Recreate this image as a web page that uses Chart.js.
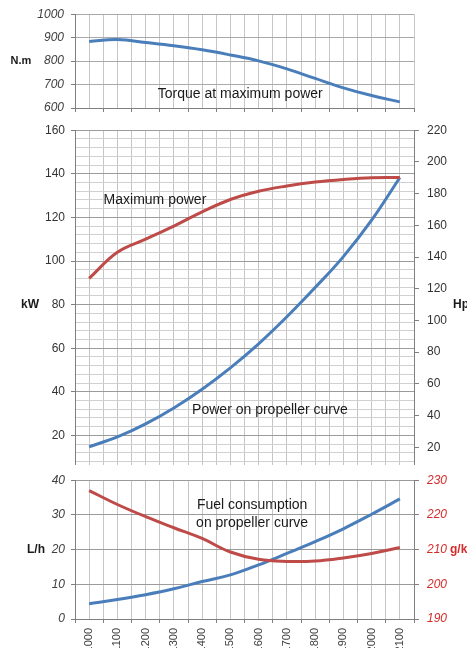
<!DOCTYPE html>
<html>
<head>
<meta charset="utf-8">
<script src="https://cdn.jsdelivr.net/npm/chart.js@4"></script>
<style>
  html, body { margin: 0; padding: 0; background: #fff; overflow: hidden; }
  #wrap { position: relative; width: 467px; height: 648px; overflow: hidden; }
  .panel { position: absolute; left: 0; width: 467px; overflow: hidden; }
  canvas { display: block; }
</style>
</head>
<body>
<div id="wrap">
  <div class="panel" style="top:0;height:125px"><canvas id="torque" width="467" height="125"></canvas></div>
  <div class="panel" style="top:115px;height:350px"><canvas id="power" width="467" height="380"></canvas></div>
  <div class="panel" style="top:465px;height:183px"><canvas id="fuel" width="467" height="195"></canvas></div>
</div>
<script>
// engine speed, rpm
const rpm = [1000, 1100, 1200, 1300, 1400, 1500, 1600, 1700, 1800, 1900, 2000, 2100];

// torque at maximum power, N.m
const torqueNm = [884, 892, 879, 865, 848, 826, 801, 767, 726, 686, 653, 626];

// power, kW
const maxPowerKw = [92, 104, 110, 116, 122.5, 128.2, 132, 134.4, 136.2, 137.4, 138.2, 138.3];
const propPowerKw = [14.8, 19.3, 25.3, 32.6, 41.2, 51, 62, 74.4, 87.8, 102, 118.7, 138.3];

// fuel consumption on propeller curve
const fuelLh = [4.4, 5.6, 7, 8.7, 10.8, 12.7, 15.6, 18.9, 22.3, 26, 30.2, 34.6];
const fuelGkwh = [227, 223, 219.5, 216.3, 213.2, 209.3, 207.2, 206.6, 206.7, 207.6, 208.9, 210.6];

// axis ranges [min, max, step]
const torqueAxis = [600, 1000, 100];
const kwAxis = [0, 160, 20];
const hpAxis = [0, 220, 20];
const lhAxis = [0, 40, 10];
const gkwhAxis = [190, 230, 10];

const BLUE = "#4a7ebb";
const RED = "#be4b48";
const FONT = "'Liberation Sans', Arial, sans-serif";

const pts = (ys) => rpm.map((x, i) => ({ x: x, y: ys[i] }));

const line = (label, ys, color, axis) => ({
  label: label,
  data: pts(ys),
  borderColor: color,
  borderWidth: 3,
  pointRadius: 0,
  fill: false,
  tension: 0.4,
  yAxisID: axis,
});

// captions and axis names
const notesPlugin = {
  id: "notes",
  afterDatasetsDraw(chart, args, opts) {
    const ctx = chart.ctx;
    const area = chart.chartArea;
    ctx.save();
    ctx.textBaseline = "middle";
    (opts.items || []).forEach((it) => {
      ctx.font = it.font;
      ctx.fillStyle = it.color || "#1a1a1a";
      ctx.textAlign = it.align || "center";
      let x, y;
      if (it.axis) {
        x = chart.scales.x.getPixelForValue(it.x);
        y = chart.scales[it.axis].getPixelForValue(it.y);
      } else {
        x = it.px;
        y = (area.top + area.bottom) / 2;
      }
      ctx.fillText(it.text, x, y);
    });
    ctx.restore();
  },
};

function rpmAxis(showLabels, height) {
  return {
    type: "linear",
    min: rpm[0] - 50,
    max: rpm[rpm.length - 1] + 50,
    grid: {
      color: "#c6c6c6",
      tickLength: 4,
      tickColor: (c) => (c.tick && Math.round(c.tick.value) % 100 === 50 ? "#7f7f7f" : "rgba(0,0,0,0)"),
    },
    border: { color: "#7f7f7f" },
    ticks: {
      display: showLabels,
      stepSize: 50,
      autoSkip: false,
      maxRotation: 90,
      minRotation: 90,
      padding: 5,
      color: "#404040",
      font: { family: FONT, size: 11 },
      callback: (v) => (v % 100 === 0 ? String(v) : ""),
    },
    afterFit: (s) => { s.height = height; },
  };
}

function valueAxis(range, pos, opts) {
  return Object.assign({
    type: "linear",
    position: pos,
    min: range[0],
    max: range[1],
    border: { color: "#7f7f7f" },
    afterFit: (s) => { s.width = pos === "left" ? 75 : 53; },
  }, opts);
}

const baseOptions = (padTop, padRight, scales, notes) => ({
  responsive: false,
  animation: false,
  layout: { padding: { top: padTop, left: 0, right: padRight, bottom: 0 } },
  plugins: { legend: { display: false }, tooltip: { enabled: false }, notes: { items: notes } },
  scales: scales,
});

// torque panel
new Chart("torque", {
  type: "line",
  data: { datasets: [line("Torque at maximum power", torqueNm, BLUE, "y")] },
  options: baseOptions(14, 53, {
    x: rpmAxis(false, 17),
    y: valueAxis(torqueAxis, "left", {
      grid: { color: "#a9a9a9", tickLength: 4, tickColor: "#7f7f7f" },
      ticks: {
        stepSize: torqueAxis[2],
        padding: 7,
        color: "#404040",
        font: { family: FONT, size: 12, style: "italic" },
        callback: (v) => String(v),
      },
    }),
  }, [
    { text: "Torque at maximum power", axis: "y", x: 1535, y: 660, font: "14px " + FONT },
    { text: "N.m", px: 21, font: "bold 11px " + FONT },
  ]),
  plugins: [notesPlugin],
});

// power panel
new Chart("power", {
  type: "line",
  data: {
    datasets: [
      line("Maximum power", maxPowerKw, RED, "y"),
      line("Power on propeller curve", propPowerKw, BLUE, "y"),
    ],
  },
  options: baseOptions(12, 0, {
    x: rpmAxis(false, 16),
    y: valueAxis(kwAxis, "left", {
      grid: {
        color: (c) => (c.tick && c.tick.value % 20 === 0 ? "#9b9b9b" : "#d0d0d0"),
        tickLength: 4,
        tickColor: (c) => (c.tick && c.tick.value % 20 === 0 ? "#7f7f7f" : "rgba(0,0,0,0)"),
      },
      ticks: {
        stepSize: 4,
        autoSkip: false,
        padding: 6,
        color: "#333",
        font: { family: FONT, size: 12 },
        callback: (v) => (v % kwAxis[2] === 0 ? String(v) : ""),
      },
    }),
    hp: valueAxis(hpAxis, "right", {
      grid: { drawOnChartArea: false, tickLength: 5, tickColor: "#7f7f7f" },
      ticks: { stepSize: hpAxis[2], padding: 8, color: "#333", font: { family: FONT, size: 12 } },
    }),
  }, [
    { text: "Maximum power", axis: "y", x: 1233, y: 127.7, font: "14px " + FONT },
    { text: "Power on propeller curve", axis: "y", x: 1640, y: 31.8, font: "14px " + FONT },
    { text: "kW", px: 30, font: "bold 12px " + FONT },
    { text: "Hp", px: 453, align: "left", font: "bold 12px " + FONT },
  ]),
  plugins: [notesPlugin],
});

// fuel panel
new Chart("fuel", {
  type: "line",
  data: {
    datasets: [
      line("g/kWh", fuelGkwh, RED, "g"),
      line("L/h", fuelLh, BLUE, "y"),
    ],
  },
  options: baseOptions(12, 0, {
    x: rpmAxis(true, 41),
    y: valueAxis(lhAxis, "left", {
      grid: { color: "#9b9b9b", tickLength: 4, tickColor: "#7f7f7f" },
      ticks: { stepSize: lhAxis[2], padding: 6, color: "#404040", font: { family: FONT, size: 12, style: "italic" } },
    }),
    g: valueAxis(gkwhAxis, "right", {
      grid: { drawOnChartArea: false, tickLength: 5, tickColor: "#7f7f7f" },
      ticks: { stepSize: gkwhAxis[2], padding: 8, color: "#d42b2b", font: { family: FONT, size: 12, style: "italic" } },
    }),
  }, [
    { text: "Fuel consumption", axis: "y", x: 1577, y: 32.7, font: "14px " + FONT },
    { text: "on propeller curve", axis: "y", x: 1577, y: 27.5, font: "14px " + FONT },
    { text: "L/h", px: 36, font: "bold 12px " + FONT },
    { text: "g/kWh", px: 450, align: "left", color: "#d42b2b", font: "bold 12px " + FONT },
  ]),
  plugins: [notesPlugin],
});
</script>
</body>
</html>
